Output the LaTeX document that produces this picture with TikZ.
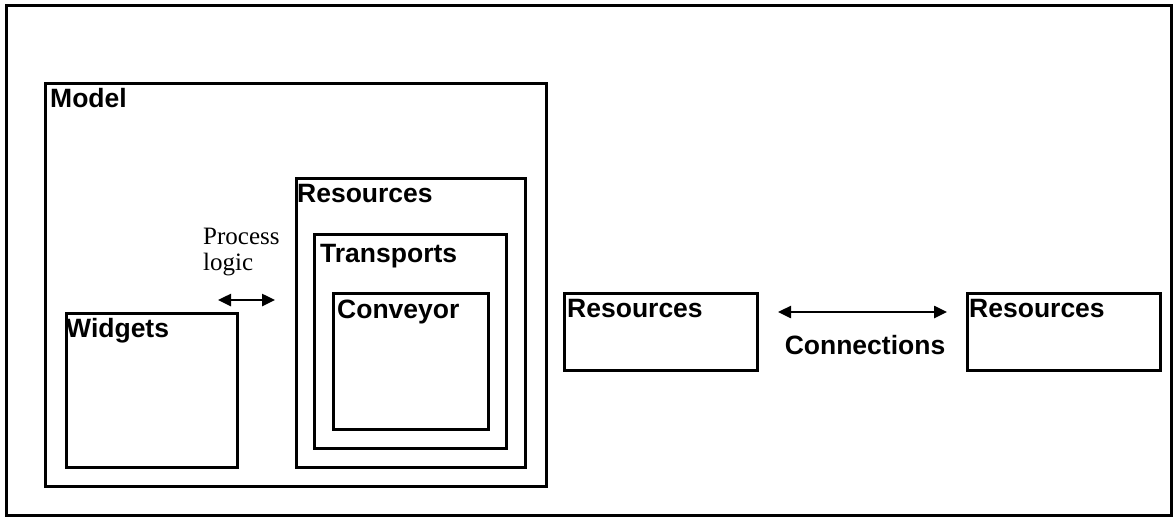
\documentclass[tikz,border=0pt]{standalone}
\usepackage{fontspec}
\usetikzlibrary{arrows.meta}
\newfontfamily\labelfont{Liberation Sans}
\newfontfamily\notefont{Liberation Serif}
\begin{document}
\begin{tikzpicture}[x=1pt,y=-1pt,
  frame/.style={draw=black, line width=3pt},
  box/.style={draw=black, line width=2.5pt, anchor=north west, inner sep=0pt},
  title/.style={anchor=base west, inner sep=0pt, font=\labelfont\bfseries\fontsize{26.5}{30}\selectfont},
  note/.style={anchor=base west, inner sep=0pt, font=\notefont\fontsize{25}{26}\selectfont},
  biarrow/.style={line width=2.5pt, {Triangle[length=13pt,width=12pt]}-{Triangle[length=13pt,width=12pt]}}
]
\useasboundingbox (0,0) rectangle (1174,517);
% outer frame
\draw[frame] (6,5) rectangle (1171,515);

% nested boxes
\node[box, minimum width=501pt, minimum height=403pt] (model) at (44,82) {};
\node[box, minimum width=171pt, minimum height=154pt] (widgets) at (65,312) {};
\node[box, minimum width=229pt, minimum height=289pt] (res1) at (295,177) {};
\node[box, minimum width=192pt, minimum height=214pt] (transports) at (313,233) {};
\node[box, minimum width=155pt, minimum height=136pt] (conveyor) at (332,292) {};
\node[box, minimum width=193pt, minimum height=77pt] (res2) at (563,292) {};
\node[box, minimum width=193pt, minimum height=77pt] (res3) at (966,292) {};

% box titles
\node[title] (tmodel) at (50,107) {Model};
\node[title] (twidgets) at (66,337) {Widgets};
\node[title] (tres1) at (297,202) {Resources};
\node[title] (ttransports) at (320,262) {Transports};
\node[title] (tconveyor) at (337,318) {Conveyor};
\node[title] (tres2) at (567,317) {Resources};
\node[title] (tres3) at (969,317) {Resources};

% process logic link
\node[note] (proc) at (203,244) {Process};
\node[note] (logic) at (203,270) {logic};
\coordinate (pl) at (218,300);
\coordinate (pr) at (275,300);
\draw[biarrow] (pl) -- (pr);

% connections link
\coordinate (cl) at (778,312);
\coordinate (cr) at (947,312);
\draw[biarrow] (cl) -- (cr);
\node[title, anchor=base] (conn) at (865,354) {Connections};
\end{tikzpicture}
\end{document}
